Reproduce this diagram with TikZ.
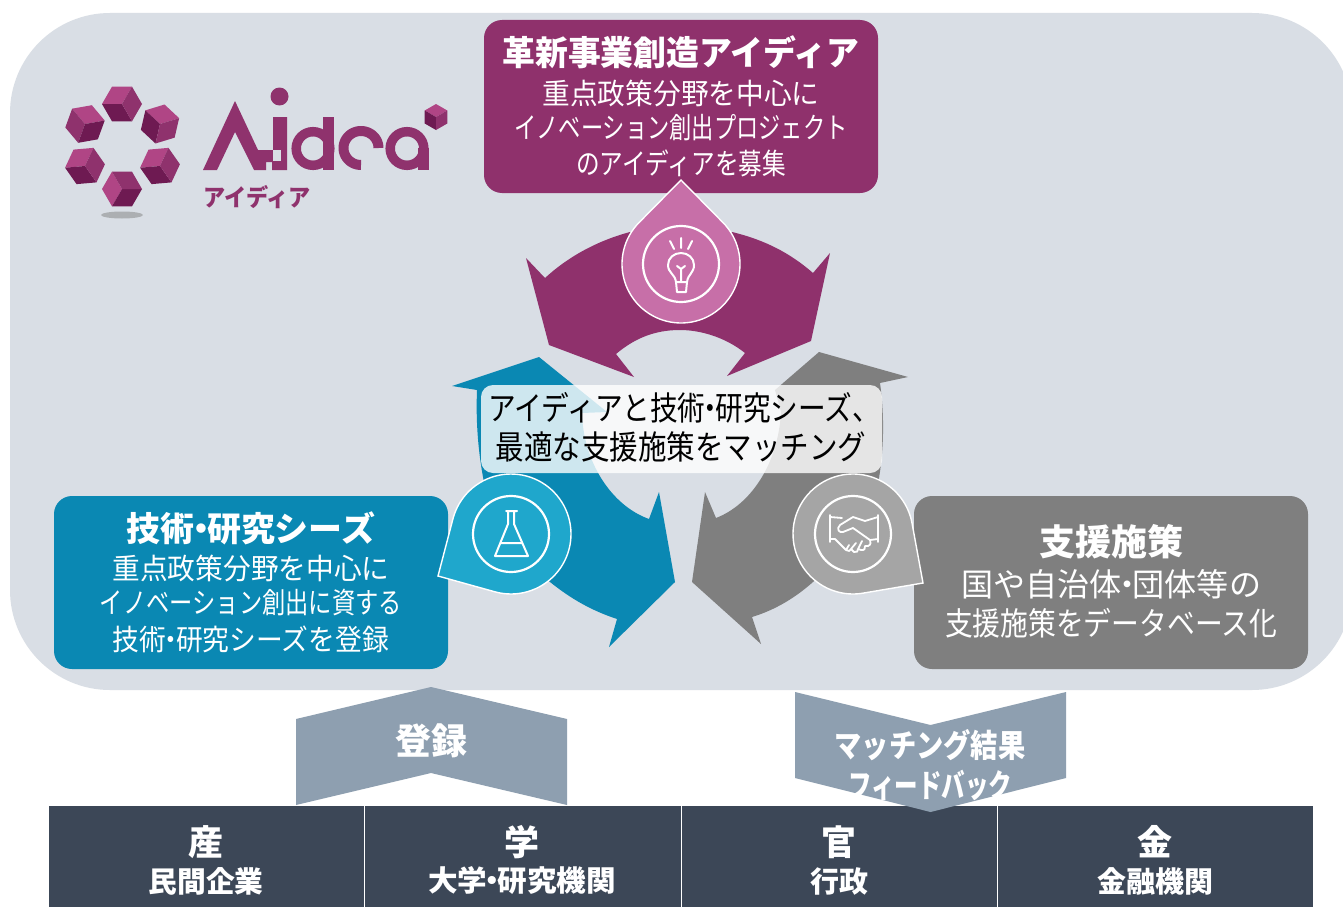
\documentclass[tikz,border=0pt]{standalone}
\usepackage{fontspec}
\usepackage{graphicx}
\setmainfont{Noto Sans CJK JP}
\definecolor{bgc}{HTML}{D9DEE5}
\definecolor{plum}{HTML}{8F316C}
\definecolor{plumpin}{HTML}{C76FA8}
\definecolor{teal}{HTML}{0A88B3}
\definecolor{tealpin}{HTML}{1FA7CC}
\definecolor{grayb}{HTML}{7F7F7F}
\definecolor{graypin}{HTML}{A5A5A5}
\definecolor{chev}{HTML}{8E9FB0}
\definecolor{barc}{HTML}{3C4757}
\definecolor{cubeL}{HTML}{B04585}
\definecolor{cubeM}{HTML}{8F326D}
\definecolor{cubeD}{HTML}{6E1A52}
\newcommand\fw[2]{\resizebox{#1pt}{\height}{#2}}
\newcommand\sz[1]{\fontsize{#1}{#1}\selectfont}
\newcommand\nd{\makebox[.36em]{・}}
\newcommand\lgface[5]{% cx cy r a1 colour
  \fill[#5] (#1,#2) -- ({#1+#3*cos(#4)},{#2-#3*sin(#4)})
    -- ({#1+#3*cos(#4+60)},{#2-#3*sin(#4+60)})
    -- ({#1+#3*cos(#4+120)},{#2-#3*sin(#4+120)}) -- cycle;}
\newcommand\lgcube[7]{%
  \lgface{#1}{#2}{#3}{#4}{#5}
  \lgface{#1}{#2}{#3}{#4+120}{#6}
  \lgface{#1}{#2}{#3}{#4+240}{#7}}
\newcommand\pinshape[8]{% cx cy r a b tipx tipy fill
  \filldraw[white,line width=1.4pt,fill=#8] (#6,#7) -- plot[domain=#4:#5,samples=70,smooth] ({#1+#3*cos(\x)},{#2+#3*sin(\x)}) -- cycle;
  \draw[white,line width=2.2pt] (#1,#2) circle[radius=38];}
\tikzset{
  txt/.style={inner sep=0pt,outer sep=0pt,text=white,anchor=center},
  dark/.style={inner sep=0pt,outer sep=0pt,text=black,anchor=center},
  bx/.style={rounded corners=18pt,minimum width=#1,inner sep=0pt,outer sep=0pt},
  icon/.style={white,line width=2pt,line cap=round,line join=round},
  cell/.style={fill=barc,inner sep=0pt,minimum height=101pt,outer sep=0pt}
}
\begin{document}
\begin{tikzpicture}[x=1pt,y=-1pt]
\useasboundingbox (0,0) rectangle (1343,907);
\fill[white] (0,0) rectangle (1343,907);
% background panel
\node[fill=bgc,rounded corners=100pt,inner sep=0pt,outer sep=0pt,minimum width=1342pt,minimum height=677pt,anchor=north west] (panel) at (10,13) {};
% logo cubes
\lgcube{122}{104}{20}{60}{cubeL}{cubeD}{cubeM}
\lgcube{160}{124}{20}{17}{cubeL}{cubeD}{cubeM}
\lgcube{160}{166}{20}{65}{cubeL}{cubeD}{cubeM}
\lgcube{122}{189}{20}{120}{cubeL}{cubeD}{cubeM}
\lgcube{85}{166}{20}{65}{cubeL}{cubeD}{cubeM}
\lgcube{85}{124}{20}{10}{cubeL}{cubeM}{cubeD}
\lgcube{436}{117}{13}{30}{cubeL}{cubeD}{cubeM}
\fill[gray!50!bgc] (122,215) ellipse[x radius=21,y radius=3.5];
% logo letters
\fill[cubeM] (235,101) -- (203,170) -- (217,170) -- (235,132) -- (254,170) -- (266,170) -- (266,162) -- (272,162) -- (272,170) -- (287,170) -- (287,117) -- (273,117) -- (273,150) -- (258,150) -- cycle;
\fill[bgc] (273,150) rectangle (281,161);
\fill[cubeM] (279.5,96.5) circle[radius=9];
\draw[cubeM,line width=9.5pt] (313,148.5) circle[radius=16.8];
\fill[cubeM] (323,117) rectangle (334,170);
\draw[cubeM,line width=10pt] plot[domain=90:360,samples=50,smooth] ({361+17.5*cos(\x)},{148+17*sin(\x)});
\draw[cubeM,line width=9.5pt] (407,148.5) circle[radius=16.8];
\fill[cubeM] (418,148) rectangle (428.5,170);
\node[txt,text=cubeM] (logotext) at (257,197) {\fw{108}{\sz{24}\bfseries アイディア}};
% boxes
\node[bx=394pt,minimum height=173pt,fill=plum,anchor=north west] (boxA) at (484,20) {};
\node[bx=394pt,minimum height=173pt,fill=teal,anchor=north west] (boxB) at (54,496) {};
\node[bx=394pt,minimum height=173pt,fill=grayb,anchor=north west] (boxC) at (914,496) {};
% cycle arrows
\fill[plum] (526,258) -- (545,278) .. controls (570,255) and (600,240) .. (630,232) -- (732,232) .. controls (765,240) and (790,253) .. (813,273) -- (830,253) -- (811,341) -- (727,376) -- (745,353) .. controls (725,337) and (700,330) .. (680,330) .. controls (655,330) and (635,338) .. (616,354) -- (634,377) -- (549,345) -- cycle;
\fill[teal] (452,386) -- (539,357) -- (607,412) -- (582,413) .. controls (583,460) and (610,505) .. (649,519) -- (659,492) -- (675,582) -- (609,647) -- (617,619) .. controls (590,610) and (570,598) .. (550,582) -- (500,540) .. controls (482,490) and (475,440) .. (477,390) -- cycle;
\fill[grayb] (819,352) -- (908,377) -- (880,383) .. controls (888,440) and (880,500) .. (860,540) -- (813,582) .. controls (795,598) and (775,610) .. (752,617) -- (761,644) -- (692,582) -- (705,492) -- (716,518) .. controls (750,505) and (778,465) .. (781,412) -- (775,390) -- cycle;
% pins
\pinshape{681}{264}{59}{-45}{225}{681}{180}{plumpin}
\pinshape{511}{534}{60}{-165}{105}{438}{576}{tealpin}
\pinshape{853}{534}{60}{80}{350}{923}{583}{graypin}
% bulb icon
\draw[icon] (676,282) .. controls (675,274) and (668,273) .. (668,265) .. controls (668,258) and (674,253) .. (681,253) .. controls (688,253) and (694,258) .. (694,265) .. controls (694,273) and (688,274) .. (687,282) -- cycle;
\draw[icon] (676,282) -- (677,292) -- (686,292) -- (687,282);
\draw[icon] (681,281) -- (681,269) (677,266) -- (681,269) -- (685,266);
\draw[icon] (670,241) -- (674,249) (681,238) -- (681,248) (692,241) -- (688,249);
% flask icon
\draw[icon] (506,511) -- (517,511) (508,511) -- (508,524) -- (495,556) -- (528,556) -- (514,524) -- (514,511) (501,543) -- (522,543);
% handshake icon
\draw[icon,line width=1.8pt] (830,515) -- (830,542) (878,515) -- (878,542)
 (830,517) -- (842,518) (878,517) -- (865,521) -- (853,517) -- (840,525) .. controls (836,529) and (839,533) .. (843,532) -- (853,528) -- (870,540) -- (878,539)
 (830,539) -- (835,539) -- (846,550) .. controls (848,552) and (851,551) .. (851,549) -- (854,552) .. controls (856,553) and (859,551) .. (858,549) -- (861,550) .. controls (864,551) and (866,548) .. (865,546) -- (868,546) .. controls (871,545) and (871,542) .. (870,540)
 (846,550) -- (849,545) (851,549) -- (856,543) (858,549) -- (862,541) ;
% centre label
\node[fill=white,fill opacity=.8,rounded corners=12pt,inner sep=0pt,outer sep=0pt,minimum width=401pt,minimum height=88pt,anchor=north west] (centre) at (481,385) {};
\node[dark] (c1) at (684,408) {\fw{392}{\sz{33}アイディアと技術\nd 研究シーズ、}};
\node[dark] (c2) at (681,447) {\fw{371}{\sz{33}最適な支援施策をマッチング}};
% box texts
\node[txt] (a1) at (681,52) {\fw{357}{\sz{34}\bfseries 革新事業創造アイディア}};
\node[txt] (a2) at (681,93) {\fw{277}{\sz{29}重点政策分野を中心に}};
\node[txt] (a3) at (681,128) {\fw{333}{\sz{29}イノベーション創出プロジェクト}};
\node[txt] (a4) at (681,163) {\fw{210}{\sz{29}のアイディアを募集}};
\node[txt] (b1) at (251,528) {\fw{248}{\sz{34}\bfseries 技術\nd 研究シーズ}};
\node[txt] (b2) at (251,568) {\fw{277}{\sz{29}重点政策分野を中心に}};
\node[txt] (b3) at (251,603) {\fw{302}{\sz{29}イノベーション創出に資する}};
\node[txt] (b4) at (251,639) {\fw{276}{\sz{29}技術\nd 研究シーズを登録}};
\node[txt] (g1) at (1111,542) {\fw{144}{\sz{36}\bfseries 支援施策}};
\node[txt] (g2) at (1111,584) {\fw{300}{\sz{32}国や自治体\nd 団体等の}};
\node[txt] (g3) at (1111,623) {\fw{332}{\sz{32}支援施策をデータベース化}};
% bottom bar
\node[cell,minimum width=315pt,anchor=north west] (s1) at (49,806) {};
\node[cell,minimum width=316pt,anchor=north west] (s2) at (364.7,806) {};
\node[cell,minimum width=315.5pt,anchor=north west] (s3) at (681.7,806) {};
\node[cell,minimum width=315.5pt,anchor=north west] (s4) at (997.7,806) {};
% chevrons
\fill[chev] (431,687) -- (567,719) -- (567,805) -- (431,773) -- (296,805) -- (296,719) -- cycle;
\fill[chev] (795,692) -- (930.5,725) -- (1066,692) -- (1066,778) -- (930.5,812) -- (795,778) -- cycle;
\node[txt] (t1) at (431,741) {\fw{72}{\sz{36}\bfseries 登録}};
\node[txt] (t2) at (930,745) {\fw{191}{\sz{32}\bfseries マッチング結果}};
\node[txt] (t3) at (930,785) {\fw{164}{\sz{32}\bfseries フィードバック}};
\node[txt] (s1a) at (206,842) {\sz{35}\bfseries 産};
\node[txt] (s1b) at (206,881) {\fw{115}{\sz{29}\bfseries 民間企業}};
\node[txt] (s2a) at (522,842) {\sz{35}\bfseries 学};
\node[txt] (s2b) at (522,881) {\fw{188}{\sz{29}\bfseries 大学\nd 研究機関}};
\node[txt] (s3a) at (839,842) {\sz{35}\bfseries 官};
\node[txt] (s3b) at (839,881) {\fw{58}{\sz{29}\bfseries 行政}};
\node[txt] (s4a) at (1155,842) {\sz{35}\bfseries 金};
\node[txt] (s4b) at (1155,881) {\fw{116}{\sz{29}\bfseries 金融機関}};
\end{tikzpicture}
\end{document}
